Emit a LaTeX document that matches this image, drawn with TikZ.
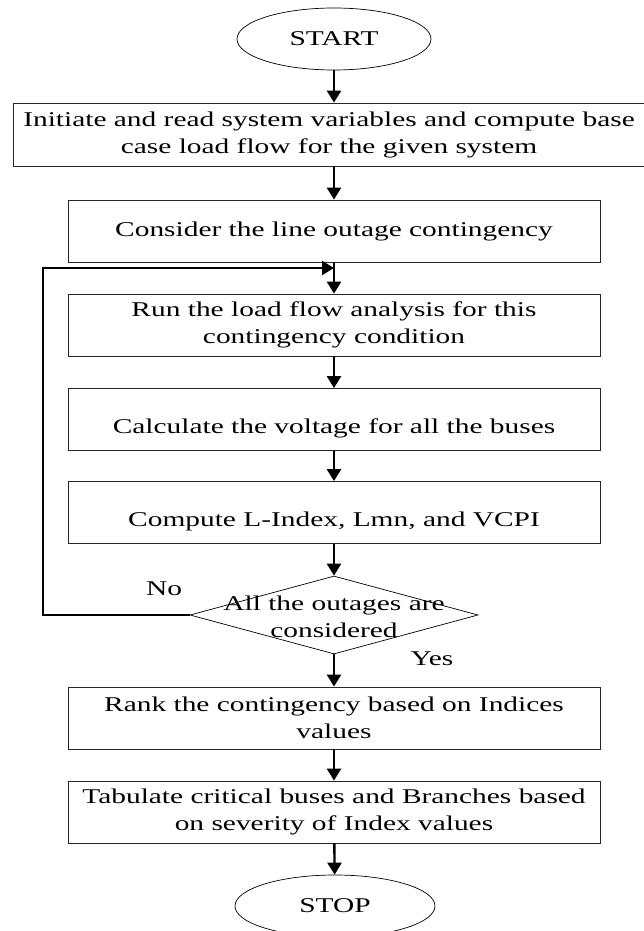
\documentclass[tikz,border=0pt]{standalone}
\usepackage{fontspec}
\setmainfont{Liberation Serif}[FakeStretch=1.4]
\usetikzlibrary{shapes.geometric,arrows.meta}

\begin{document}
\begin{tikzpicture}[
  x=1pt, y=-1pt,
  every node/.style={font=\fontsize{21}{27}\selectfont},
  terminal/.style={ellipse, draw, line width=0.7pt, inner sep=0pt, minimum width=194, minimum height=62},
  process/.style={rectangle, draw=black!85, line width=0.8pt, inner sep=0pt, align=center, minimum width=532, minimum height=62},
  lowtext/.style={text height=33pt, text depth=5pt},
  decision/.style={diamond, draw, line width=0.7pt, inner sep=0pt, minimum width=288, minimum height=78},
  flow/.style={line width=2.4pt, -{Triangle[width=14pt,length=12pt]}}
]
  % Fix the page to the reference size
  \useasboundingbox (0,0) rectangle (643,931);

  % Start and the first steps
  \node[terminal] (start) at (334,39) {START};
  \node[process, minimum width=632, minimum height=63] (init) at (329,134.5)
    {Initiate and read system variables and compute base\\case load flow for the given system};
  \node[process] (outage) at (334,231) {Consider the line outage contingency};

  % Point where the loop comes back in
  \coordinate (join) at (334,268);
  \coordinate (corner) at (43,268);

  % Steps inside the loop
  \node[process] (runlf) at (334,325)
    {Run the load flow analysis for this\\contingency condition};
  \node[process, lowtext] (calcv) at (334,419.5) {Calculate the voltage for all the buses};
  \node[process, lowtext] (indices) at (334,512.5) {Compute L-Index, Lmn, and VCPI};

  % Decision
  \node[decision] (check) at (334,615) {};
  \node[align=center] (checktext) at (334,617) {All the outages are\\considered};
  \node (nolabel) at (164,589) {No};
  \node (yeslabel) at (432,659) {Yes};

  % Final steps
  \node[process] (rank) at (334,718)
    {Rank the contingency based on Indices\\values};
  \node[process] (tabulate) at (334,812)
    {Tabulate critical buses and Branches based\\on severity of Index values};
  \node[terminal, minimum width=200] (stop) at (335,906) {STOP};

  % Connectors
  \draw[flow] (start) -- (start |- init.north);
  \draw[flow] (init.south -| outage.north) -- (outage);
  \draw[flow] (outage) -- (runlf);
  \draw[flow] (runlf) -- (calcv);
  \draw[flow] (calcv) -- (indices);
  \draw[flow] (indices) -- (check);
  \draw[flow] (check) -- (rank);
  \draw[flow] (rank) -- (tabulate);
  \draw[flow] (tabulate) -- (stop);

  % Loop back for the next outage
  \draw[flow] (check.west) -| (corner) -- (join);

\end{tikzpicture}
\end{document}
